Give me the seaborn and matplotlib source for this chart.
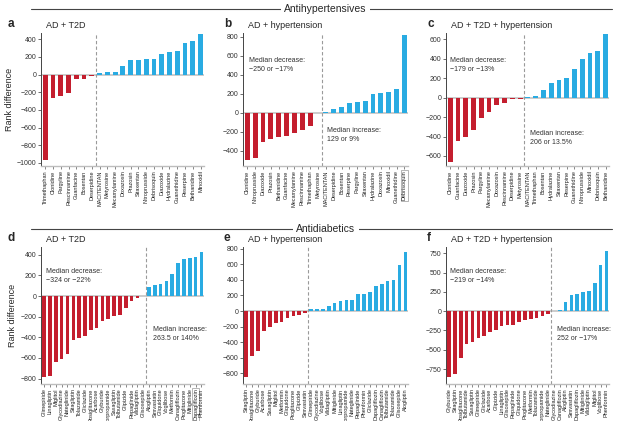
import numpy as np
import pandas as pd
import matplotlib
matplotlib.use("Agg")
import matplotlib.pyplot as plt
import seaborn as sns
from matplotlib.lines import Line2D

# ---------------- data

# a: antihypertensives, AD + T2D
a_drugs = ["Trimethaphan", "Clonidine", "Pargyline", "Rescinnamine", "Guanfacine", "Bosentan",
           "Deserpidine", "MACITENTAN", "Metyrosine", "Mecamylamine", "Doxazosin", "Prazosin",
           "Sitaxentan", "Nitroprusside", "Debrisoquin", "Diazoxide", "Hydralazine",
           "Guanethidine", "Reserpine", "Bethanidine", "Minoxidil"]
a_vals = [-970, -270, -245, -205, -50, -45, -20, 15, 25, 35, 95, 160, 165, 175, 180,
          230, 255, 265, 360, 380, 455]

# b: antihypertensives, AD + hypertension
b_drugs = ["Clonidine", "Nitroprusside", "Diazoxide", "Prazosin", "Bethanidine", "Guanfacine",
           "Mecamylamine", "Rescinnamine", "Trimethaphan", "Metyrosine", "MACITENTAN",
           "Deserpidine", "Bosentan", "Reserpine", "Pargyline", "Sitaxentan", "Hydralazine",
           "Doxazosin", "Minoxidil", "Guanethidine", "Debrisoquin"]
b_vals = [-500, -480, -305, -280, -255, -245, -210, -180, -140, -5, 10, 35, 60, 100, 115,
          125, 200, 210, 220, 245, 820]

# c: antihypertensives, AD + T2D + hypertension
c_drugs = ["Clonidine", "Guanfacine", "Diazoxide", "Prazosin", "Pargyline", "Mecamylamine",
           "Doxazosin", "Rescinnamine", "Deserpidine", "Metyrosine", "MACITENTAN",
           "Trimethaphan", "Bosentan", "Hydralazine", "Sitaxentan", "Reserpine",
           "Guanethidine", "Nitroprusside", "Minoxidil", "Debrisoquin", "Bethanidine"]
c_vals = [-660, -450, -405, -330, -205, -150, -80, -60, -15, -15, 10, 20, 75, 150, 185,
          205, 295, 400, 460, 485, 650]

# d: antidiabetics, AD + T2D
d_drugs = ["Glimepiride", "Linagliptin", "Miglitol", "Glycodiazine", "Nateglinide",
           "Sitagliptin", "Tolazamide", "Gliclazide", "Rosiglitazone", "Acarbose", "Glyburide",
           "Chlorpropamide", "Saxagliptin", "Tolbutamide", "Glipizide", "Repaglinide",
           "Vildagliptin", "Glisoxepide", "Alogliptin", "Simvastatin", "Gliquidone",
           "Voglibose", "Metformin", "Canagliflozin", "Pioglitazone", "Mitiglinide",
           "Dapagliflozin", "Phenformin"]
d_vals = [-787, -777, -639, -613, -561, -423, -410, -387, -329, -310, -245, -219, -194,
          -187, -116, -52, -19, -4, 90, 110, 119, 142, 210, 323, 361, 368, 377, 429]

# e: antidiabetics, AD + hypertension
e_drugs = ["Sitagliptin", "Rosiglitazone", "Glyburide", "Acarbose", "Saxagliptin", "Miglitol",
           "Metformin", "Gliquidone", "Pioglitazone", "Glipizide", "Simvastatin",
           "Glimepiride", "Glycodiazine", "Voglibose", "Vildagliptin", "Mitiglinide",
           "Linagliptin", "Chlorpropamide", "Nateglinide", "Repaglinide", "Phenformin",
           "Gliclazide", "Dapagliflozin", "Canagliflozin", "Tolbutamide", "Tolazamide",
           "Glisoxepide", "Alogliptin"]
e_vals = [-850, -573, -517, -252, -210, -158, -145, -94, -68, -47, -21, 21, 21, 22, 60,
          100, 132, 136, 138, 218, 220, 240, 316, 350, 380, 400, 594, 757]

# f: antidiabetics, AD + T2D + hypertension
f_drugs = ["Glyburide", "Sitagliptin", "Rosiglitazone", "Tolbutamide", "Saxagliptin",
           "Glimepiride", "Gliclazide", "Acarbose", "Glipizide", "Linagliptin", "Glisoxepide",
           "Repaglinide", "Gliquidone", "Pioglitazone", "Metformin", "Tolazamide",
           "Chlorpropamide", "Nateglinide", "Glycodiazine", "Canagliflozin", "Alogliptin",
           "Simvastatin", "Dapagliflozin", "Mitiglinide", "Vildagliptin", "Miglitol",
           "Voglibose", "Phenformin"]
f_vals = [-855, -808, -611, -424, -397, -349, -319, -266, -245, -192, -179, -175, -140,
          -114, -96, -92, -65, -35, 2, 17, 122, 210, 223, 249, 262, 362, 603, 781]

titles = ["AD + T2D", "AD + hypertension", "AD + T2D + hypertension"]
dec_notes = {"b": "Median decrease:\n\u2212250 or \u221217%",
             "c": "Median decrease:\n\u2212179 or \u221213%",
             "d": "Median decrease:\n\u2212324 or \u221222%",
             "f": "Median decrease:\n\u2212219 or \u221214%"}
inc_notes = {"b": "Median increase:\n129 or 9%",
             "c": "Median increase:\n206 or 13.5%",
             "d": "Median increase:\n263.5 or 140%",
             "f": "Median increase:\n252 or \u221217%"}
boxed = {"b": "Debrisoquin", "d": "Dapagliflozin"}

# ---------------- style
sns.set_style("ticks")
plt.rcParams["font.family"] = ["Liberation Sans", "DejaVu Sans"]
RED = "#C41E2E"
BLUE = "#29ABE2"
BAR_W = 0.62

W, H = 617, 421
fig = plt.figure(figsize=(W / 100, H / 100), dpi=100)


def px_ax(x0, y0, x1, y1):
    return fig.add_axes([x0 / W, 1 - y1 / H, (x1 - x0) / W, (y1 - y0) / H])


def fx(x):
    return x / W


def fy(y):
    return 1 - y / H


panels = [
    ("a", a_drugs, a_vals, (41, 33, 204, 166), (-1034, 471), np.arange(-1000, 401, 200)),
    ("b", b_drugs, b_vals, (243, 33, 408, 166), (-561, 839), np.arange(-400, 801, 200)),
    ("c", c_drugs, c_vals, (446, 33, 609, 166), (-703, 665), np.arange(-600, 601, 200)),
    ("d", d_drugs, d_vals, (41, 247, 204, 384), (-852, 475), np.arange(-800, 401, 200)),
    ("e", e_drugs, e_vals, (243, 247, 408, 384), (-937, 822), np.arange(-800, 801, 200)),
    ("f", f_drugs, f_vals, (446, 247, 609, 384), (-942, 830), np.arange(-750, 751, 250)),
]

for i, (key, drugs, vals, box, ylim, yticks) in enumerate(panels):
    ax = px_ax(*box)
    df = pd.DataFrame({"drug": drugs, "diff": vals})
    cols = [RED if v < 0 else BLUE for v in vals]
    n = len(drugs)
    n_red = sum(v < 0 for v in vals)

    ax.axhline(0, color="#c8c8c8", lw=1.3, zorder=0)
    sns.barplot(data=df, x="drug", y="diff", hue="drug", palette=cols, legend=False,
                dodge=False, width=BAR_W, saturation=1, ax=ax, zorder=2)
    # make sure every bar keeps the full width around its category
    for p in ax.patches:
        c = p.get_x() + p.get_width() / 2
        p.set_width(BAR_W)
        p.set_x(c - BAR_W / 2)
        p.set_linewidth(0)
    ax.axvline(n_red - 0.5, color="#9a9a9a", lw=0.8, ls=(0, (3, 2)), zorder=1)

    ax.set_xlim(-0.55, n - 0.55)
    ax.set_ylim(*ylim)
    ax.set_yticks(yticks)
    ax.set_xlabel("")
    ax.set_ylabel("Rank difference" if key in ("a", "d") else "", fontsize=6.5, labelpad=2)

    ax.tick_params(axis="y", labelsize=5, length=2, width=0.5, pad=1.5, colors="#333333")
    ax.tick_params(axis="x", labelsize=4.0, length=2, width=0.5, pad=1.2,
                   rotation=90, colors="#555555", labelcolor="#222222")
    sns.despine(ax=ax)
    ax.spines["left"].set_color("#444444")
    ax.spines["left"].set_linewidth(0.7)
    ax.spines["bottom"].set_color("#bdbdbd")
    ax.spines["bottom"].set_linewidth(1.0)

    if key in boxed:
        for lab in ax.get_xticklabels():
            if lab.get_text() == boxed[key]:
                lab.set_bbox(dict(facecolor="none", edgecolor="#999999", lw=0.5, pad=0.6))

    if key in dec_notes:
        pos_dec = {"b": (0.036, 0.82), "c": (0.025, 0.82), "d": (0.03, 0.85), "f": (0.025, 0.85)}
        pos_inc = {"b": (0.51, 0.29), "c": (0.515, 0.27), "d": (0.69, 0.42), "f": (0.68, 0.42)}
        ax.text(*pos_dec[key], dec_notes[key], transform=ax.transAxes, fontsize=5,
                va="top", ha="left", color="#333333", linespacing=1.4)
        ax.text(*pos_inc[key], inc_notes[key], transform=ax.transAxes, fontsize=5,
                va="top", ha="left", color="#333333", linespacing=1.4, clip_on=False)

    # panel letter and title
    x0, y0 = box[0], box[1]
    fig.text(fx(x0 - 33 if key in ("a", "d") else x0 - 19), fy(y0 - 9), key,
             fontsize=8.5, fontweight="bold", va="center", ha="left")
    fig.text(fx(x0 + 5), fy(y0 - 8), titles[i % 3], fontsize=6.5, va="center", ha="left")

# section headers
for y, label in [(9, "Antihypertensives"), (229, "Antidiabetics")]:
    fig.add_artist(Line2D([fx(31), fx(612)], [fy(y), fy(y)], color="#444444", lw=0.8))
    fig.text(fx(325.5), fy(y), label, fontsize=7.5, ha="center", va="center",
             bbox=dict(facecolor="white", edgecolor="none", pad=2.5))

fig.savefig("out.png", dpi=100)
